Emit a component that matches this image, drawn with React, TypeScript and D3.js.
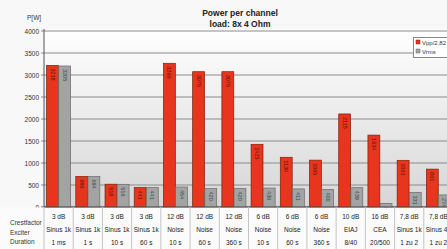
import React from 'react';
import * as d3 from 'd3';

const crestfactor = ['3 dB', '3 dB', '3 dB', '3 dB', '12 dB', '12 dB', '12 dB', '6 dB', '6 dB', '6 dB', '10 dB', '16 dB', '7,8 dB', '7,8 dB'];
const exciter = ['Sinus 1k', 'Sinus 1k', 'Sinus 1k', 'Sinus 1k', 'Noise', 'Noise', 'Noise', 'Noise', 'Noise', 'Noise', 'EIAJ', 'CEA', 'Sinus 1k', 'Sinus 40'];
const duration = ['1 ms', '1 s', '10 s', '60 s', '10 s', '60 s', '360 s', '10 s', '60 s', '360 s', '8/40', '20/500', '1 zu 2', '1 zu 2'];
const vpp = [3218, 696, 518, 441, 3266, 3075, 3075, 1425, 1130, 1065, 2115, 1634, 1061, 861];
const vrms = [3205, 694, 516, 441, 454, 420, 420, 430, 411, 400, 439, 82, 331, 274];
const yTicks = [0, 500, 1000, 1500, 2000, 2500, 3000, 3500, 4000];
const seriesNames = ['Vpp/2,82', 'Vrms'];

const W = 447;
const H = 249;
const left = 44;
const right = 453;
const top = 31;
const bottom = 207;
const font = 'Liberation Sans, Arial, sans-serif';
const colors = ['#e8351d', '#a3a3a3'];
const strokes = ['#7a2010', '#6a6a6a'];

const App: React.FC = () => {
  const idx = crestfactor.map((_, i) => String(i));
  const x0 = d3.scaleBand().domain(idx).range([left, right]).paddingInner(0.16).paddingOuter(0.08);
  const x1 = d3.scaleBand().domain(['0', '1']).range([0, x0.bandwidth()]).padding(0.02);
  const y = d3.scaleLinear().domain([0, 4000]).range([bottom, top]);
  const step = x0.step();
  const series = [vpp, vrms];

  return (
    <svg width={W} height={H} style={{ position: 'absolute', left: 0, top: 0 }} fontFamily={font}>
      <defs>
        <linearGradient id="plotbg" x1="0" y1="0" x2="0" y2="1">
          <stop offset="0" stopColor="#ffffff" />
          <stop offset="1" stopColor="#d6d6d6" />
        </linearGradient>
      </defs>
      <rect width={W} height={H} fill="#f8f8f8" />
      <rect x={left} y={top - 2} width={W - left} height={bottom - top + 2} fill="url(#plotbg)" />

      {/* gridlines */}
      {yTicks.map((t) => (
        <g key={t}>
          <line x1={left - 3} x2={W} y1={y(t)} y2={y(t)} stroke={t === 0 ? '#555' : '#8a8a8a'} strokeWidth={1} />
          <text x={left - 5} y={y(t) + 2.5} fontSize={6.5} textAnchor="end" fill="#333">{t}</text>
        </g>
      ))}
      <line x1={left} x2={left} y1={top - 2} y2={bottom} stroke="#555" />
      <text x={27} y={20} fontSize={6.5} fill="#333">P[W]</text>

      {/* title */}
      <text x={240} y={16} fontSize={8.5} textAnchor="middle" fill="#222" fontWeight={600}>Power per channel</text>
      <text x={240} y={27} fontSize={8.5} textAnchor="middle" fill="#222" fontWeight={600}>load:  8x 4 Ohm</text>

      {/* bars */}
      {series.map((vals, s) =>
        vals.map((v, i) => {
          const bx = (x0(String(i)) ?? 0) + (x1(String(s)) ?? 0);
          const bw = x1.bandwidth();
          return (
            <g key={`${s}-${i}`}>
              <rect x={bx} y={y(v)} width={bw} height={bottom - y(v)} fill={colors[s]} stroke={strokes[s]} strokeWidth={0.7} />
              <text
                transform={`translate(${bx + bw / 2 - 2},${y(v) + 3}) rotate(90)`}
                fontSize={5.5}
                fill={s === 0 ? '#5a1208' : '#2e4a4a'}
              >
                {v}
              </text>
            </g>
          );
        })
      )}

      {/* table below axis */}
      <rect x={0} y={bottom + 0.5} width={W} height={H - bottom} fill="#fbfbfb" />
      <line x1={left} x2={W} y1={bottom} y2={bottom} stroke="#555" />
      {d3.range(crestfactor.length + 1).map((i) => (
        <line key={i} x1={left + i * step} x2={left + i * step} y1={bottom} y2={H} stroke="#c4c4c4" />
      ))}
      <text x={10} y={225} fontSize={6.5} fill="#333">Crestfactor</text>
      <text x={10} y={235} fontSize={6.5} fill="#333">Exciter</text>
      <text x={10} y={244} fontSize={6.5} fill="#333">Duration</text>
      {idx.map((k, i) => {
        const cx = left + (i + 0.5) * step;
        return (
          <g key={k} fontSize={6.5} fill="#222" textAnchor="middle">
            <text x={cx} y={218.5}>{crestfactor[i]}</text>
            <text x={cx} y={232}>{exciter[i]}</text>
            <text x={cx} y={244.5}>{duration[i]}</text>
          </g>
        );
      })}

      {/* legend */}
      <rect x={413.5} y={37.5} width={40} height={20} fill="#ffffff" stroke="#888" />
      {seriesNames.map((n, s) => (
        <g key={n}>
          <rect x={416} y={40 + s * 9} width={4} height={4} fill={colors[s]} stroke={strokes[s]} strokeWidth={0.5} />
          <text x={422} y={44.5 + s * 9} fontSize={6} fill="#333">{n}</text>
        </g>
      ))}
    </svg>
  );
};

export default App;
